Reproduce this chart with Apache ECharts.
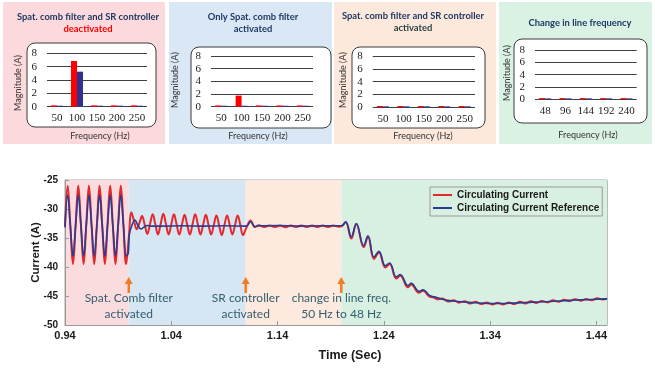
<!DOCTYPE html>
<html><head><meta charset="utf-8">
<script src="https://cdn.jsdelivr.net/npm/echarts@6/dist/echarts.min.js"></script>
<style>html,body{margin:0;padding:0;background:#fff}#c{width:655px;height:368px}</style>
</head><body><div id="c"></div>
<script>
// ---------- DATA ----------
const freqs50 = ['50', '100', '150', '200', '250'];
const freqs48 = ['48', '96', '144', '192', '240'];
const p1Red  = [0.2, 6.85, 0.2, 0.2, 0.2];
const p1Blue = [0.15, 5.25, 0.15, 0.15, 0.15];
const p2Red  = [0.2, 1.75, 0.2, 0.2, 0.2];
const p2Blue = [0.15, 0.15, 0.15, 0.15, 0.15];
const p3Red  = [0.2, 0.2, 0.2, 0.2, 0.2];
const p3Blue = [0.15, 0.15, 0.15, 0.15, 0.15];
const p4Red  = [0.2, 0.2, 0.2, 0.2, 0.2];
const p4Blue = [0.15, 0.15, 0.15, 0.15, 0.15];
const panelTitles = [
  ['Spat. comb filter and SR controller', 'deactivated'],
  ['Only Spat. comb filter', 'activated'],
  ['Spat. comb filter and SR controller', 'activated'],
  ['Change in line frequency']
];

const currentMeasured = [
  [0.94,-33.0],[0.9425,-26.0],[0.945,-32.75],[0.9475,-39.5],[0.95,-32.75],[0.9525,-26.0],[0.955,-32.75],[0.9575,-39.5],
  [0.96,-32.75],[0.9625,-26.0],[0.965,-32.75],[0.9675,-39.5],[0.97,-32.75],[0.9725,-26.0],[0.975,-32.75],[0.9775,-39.5],
  [0.98,-32.75],[0.9825,-26.0],[0.985,-32.75],[0.9875,-39.5],[0.99,-32.75],[0.9925,-26.0],[0.995,-32.75],[0.9975,-39.5],
  [1.0,-35.0],[1.0025,-30.6],[1.005,-32.1],[1.0075,-33.5],[1.01,-32.4],[1.0125,-31.2],[1.015,-32.7],[1.0175,-34.3],
  [1.02,-32.6],[1.0225,-30.9],[1.025,-32.65],[1.0275,-34.4],[1.03,-32.6],[1.0325,-30.8],[1.035,-32.6],[1.0375,-34.4],
  [1.04,-32.65],[1.0425,-30.9],[1.045,-32.65],[1.0475,-34.4],[1.05,-32.7],[1.0525,-31.0],[1.055,-32.7],[1.0575,-34.4],
  [1.06,-32.65],[1.0625,-30.9],[1.065,-32.65],[1.0675,-34.4],[1.07,-32.7],[1.0725,-31.0],[1.075,-32.7],[1.0775,-34.4],
  [1.08,-32.75],[1.0825,-31.1],[1.085,-32.8],[1.0875,-34.5],[1.09,-32.8],[1.0925,-31.1],[1.095,-32.75],[1.0975,-34.4],
  [1.10,-32.75],[1.1025,-31.1],[1.105,-32.8],[1.1075,-34.5],[1.1105,-33.3],[1.1148,-32.0],[1.1186,-33.1],[1.1225,-32.8],
  [1.1275,-33.1],[1.1325,-32.85],[1.1375,-33.1],[1.1425,-32.85],[1.1475,-33.15],[1.1525,-32.85],[1.1575,-33.1],[1.1625,-32.85],
  [1.1675,-33.1],[1.1725,-32.85],[1.1775,-33.1],[1.1825,-32.85],[1.1875,-33.1],[1.1925,-32.85],[1.1975,-33.05],[1.20,-33.0],
  [1.2041,-32.3],[1.2094,-35.1],[1.2141,-32.6],[1.2210,-36.6],[1.2251,-34.8],[1.2307,-38.6],[1.2354,-37.5],[1.2414,-40.1],
  [1.2455,-39.5],[1.2517,-42.0],[1.2555,-41.5],[1.2627,-43.5],[1.2658,-43.0],[1.2730,-44.45],[1.2768,-44.1],[1.2830,-45.1],
  [1.2877,-45.3],[1.2900,-45.55],[1.2952,-45.45],[1.3004,-45.95],[1.3056,-45.75],[1.3108,-46.15],[1.3160,-45.9],[1.3212,-46.3],
  [1.3264,-46.0],[1.3316,-46.4],[1.3368,-46.1],[1.3420,-46.45],[1.3472,-46.15],[1.3524,-46.45],[1.3576,-46.1],[1.3628,-46.4],
  [1.3680,-46.0],[1.3732,-46.3],[1.3784,-45.9],[1.3836,-46.2],[1.3888,-45.85],[1.3940,-46.1],[1.3992,-45.75],[1.4044,-46.0],
  [1.4096,-45.65],[1.4148,-45.9],[1.4200,-45.55],[1.4252,-45.8],[1.4304,-45.5],[1.4356,-45.75],[1.4408,-45.4],[1.4460,-45.6],
  [1.45,-45.45]
];
const currentReference = [
  [0.94,-33.2],[0.9425,-27.6],[0.945,-32.85],[0.9475,-38.1],[0.95,-32.85],[0.9525,-27.6],[0.955,-32.85],[0.9575,-38.1],
  [0.96,-32.85],[0.9625,-27.6],[0.965,-32.85],[0.9675,-38.1],[0.97,-32.85],[0.9725,-27.6],[0.975,-32.85],[0.9775,-38.1],
  [0.98,-32.85],[0.9825,-27.6],[0.985,-32.85],[0.9875,-38.1],[0.99,-32.85],[0.9925,-27.6],[0.995,-32.85],[0.9975,-38.1],
  [0.9995,-37.6],[1.0005,-34.4],[1.003,-32.8],[1.0058,-31.9],[1.0085,-32.8],[1.0114,-33.45],[1.0145,-33.1],[1.0175,-32.85],
  [1.021,-32.95],[1.03,-32.95],[1.05,-32.9],[1.07,-32.95],[1.09,-32.9],[1.1105,-32.95],[1.1148,-32.2],[1.1186,-33.05],
  [1.1225,-32.9],[1.14,-32.85],[1.16,-32.95],[1.18,-32.9],[1.20,-32.9],
  [1.2041,-32.2],[1.2094,-34.8],[1.2141,-32.5],[1.2210,-36.3],[1.2251,-34.6],[1.2307,-38.3],[1.2354,-37.3],[1.2414,-39.8],
  [1.2455,-39.3],[1.2517,-41.7],[1.2555,-41.3],[1.2627,-43.2],[1.2658,-42.8],[1.2730,-44.2],[1.2768,-43.95],[1.2830,-44.9],
  [1.2877,-45.15],[1.295,-45.55],[1.30,-45.75],[1.31,-45.95],[1.32,-46.1],[1.33,-46.2],[1.34,-46.3],[1.35,-46.3],
  [1.36,-46.25],[1.37,-46.15],[1.38,-46.05],[1.39,-46.0],[1.40,-45.9],[1.41,-45.8],[1.42,-45.7],[1.43,-45.65],
  [1.44,-45.55],[1.45,-45.5]
];
const timeTicks = [0.94, 1.04, 1.14, 1.24, 1.34, 1.44];
const stageBands = [[0.94, 1.00], [1.00, 1.11], [1.11, 1.20], [1.20, 1.45]];
const eventTimes = [1.00, 1.11, 1.20];
const eventLabels = [['Spat. Comb filter', 'activated'], ['SR controller', 'activated'], ['change in line freq.', '50 Hz to 48 Hz']];

// ---------- LAYOUT / STYLE ----------
const bandColors = ['#fadcdf', '#d6e6f3', '#fde9de', '#d8f0e1'];
const panels = [
  {x:3, y:2, w:162, h:142, fill:'#fbd9dc', box:[27,43,129,84], grid:{left:47, top:53.3, width:100, height:53.4},
   t1y:17, t2y:29, tx:88, t2c:'#ff0000', mag:[18,83], freq:[100,136], cats:freqs50, red:p1Red, blue:p1Blue},
  {x:169, y:2, w:163, h:142, fill:'#dae8f5', box:[191,47,140,81], grid:{left:211, top:56, width:102, height:50.7},
   t1y:17, t2y:29, tx:253, t2c:'#1f3864', mag:[175,80], freq:[258,136], cats:freqs50, red:p2Red, blue:p2Blue},
  {x:334, y:2, w:162, h:142, fill:'#fde8dc', box:[352,47,133,81], grid:{left:372.7, top:56, width:102.3, height:51.3},
   t1y:16, t2y:27.5, tx:413, t2c:'#1e3d3d', mag:[343,80], freq:[423,136], cats:freqs50, red:p3Red, blue:p3Blue},
  {x:499, y:2, w:153, h:142, fill:'#daf2e3', box:[514,39,133,84], grid:{left:535, top:50, width:101.7, height:49.3},
   t1y:23, tx:580, mag:[507,73], freq:[588,135], cats:freqs48, red:p4Red, blue:p4Blue}
];
const serif = 'Liberation Serif';
const sans = 'Lato';

const grids = [], xAxes = [], yAxes = [], series = [], graphics = [];
panels.forEach((p, i) => {
  grids.push(Object.assign({containLabel:false}, p.grid));
  xAxes.push({type:'category', gridIndex:i, data:p.cats, axisLine:{show:false}, axisTick:{show:false},
    axisLabel:{fontFamily:serif, fontSize:11, color:'#222', margin:6, interval:0, hideOverlap:false}});
  yAxes.push({type:'value', gridIndex:i, min:0, max:8, interval:2, axisLine:{show:false}, axisTick:{show:false},
    axisLabel:{fontFamily:serif, fontSize:11, color:'#222', margin:10},
    splitLine:{show:true, lineStyle:{color:'#404040', width:1}}});
  series.push({type:'bar', xAxisIndex:i, yAxisIndex:i, data:p.red, barWidth:6, barGap:'0%', itemStyle:{color:'#ff0000'}, silent:true});
  series.push({type:'bar', xAxisIndex:i, yAxisIndex:i, data:p.blue, barWidth:6, barGap:'0%', itemStyle:{color:'#2e3192'}, silent:true});
  graphics.push({type:'rect', z:-10, shape:{x:p.x, y:p.y, width:p.w, height:p.h}, style:{fill:p.fill}});
  graphics.push({type:'rect', z:-5, shape:{x:p.box[0], y:p.box[1], width:p.box[2], height:p.box[3], r:8},
    style:{fill:'#ffffff', stroke:'#3a3a3a', lineWidth:1}});
  const t = panelTitles[i];
  graphics.push({type:'text', x:p.tx, y:p.t1y, style:{text:t[0], font:'bold 9.4px ' + sans, fill:'#1f3864', align:'center', verticalAlign:'middle'}});
  if (t[1]) graphics.push({type:'text', x:p.tx, y:p.t2y, style:{text:t[1], font:'bold 9.4px ' + sans, fill:p.t2c, align:'center', verticalAlign:'middle'}});
  graphics.push({type:'text', x:p.mag[0], y:p.mag[1], rotation:Math.PI/2, style:{text:'Magnitude (A)', font:'9px ' + sans, fill:'#333', align:'center', verticalAlign:'middle'}});
  graphics.push({type:'text', x:p.freq[0], y:p.freq[1], style:{text:'Frequency (Hz)', font:'9px ' + sans, fill:'#333', align:'center', verticalAlign:'middle'}});
});

// main chart
const M = 4;
grids.push({left:65, top:180, width:542, height:145, show:true, borderColor:'#a6a6a6', borderWidth:1, backgroundColor:'transparent', z:0});
const bold = 'Liberation Sans';
xAxes.push({type:'value', gridIndex:M, min:0.94, max:1.45, interval:0.1, z:1,
  axisLine:{show:true, lineStyle:{color:'#999'}}, axisTick:{show:true, inside:true, length:4, lineStyle:{color:'#999'}},
  splitLine:{show:true, lineStyle:{color:'rgba(0,0,0,0.1)'}},
  axisLabel:{fontFamily:bold, fontWeight:'bold', fontSize:11, color:'#1a1a1a', margin:5, showMaxLabel:false,
    formatter:(v) => { const t = timeTicks.find(k => Math.abs(k - v) < 0.002); return t === undefined ? '' : t.toFixed(2); }}});
yAxes.push({type:'value', gridIndex:M, min:-50, max:-25, interval:5, z:1,
  axisLine:{show:true, lineStyle:{color:'#999'}}, axisTick:{show:true, inside:true, length:4, lineStyle:{color:'#999'}},
  splitLine:{show:true, lineStyle:{color:'rgba(0,0,0,0.1)'}},
  axisLabel:{fontFamily:bold, fontWeight:'bold', fontSize:10, color:'#1a1a1a', margin:7}});
series.push({type:'line', xAxisIndex:M, yAxisIndex:M, data:[], z:-2, silent:true,
  markArea:{silent:true, data: stageBands.map((b, i) => [{xAxis:b[0], itemStyle:{color:bandColors[i]}}, {xAxis:b[1]}])}});
series.push({name:'Circulating Current', type:'line', xAxisIndex:M, yAxisIndex:M, data:currentMeasured, z:3,
  showSymbol:false, symbol:'none', smooth:0.4, lineStyle:{color:'#e5282b', width:2}, itemStyle:{color:'#e5282b'}});
series.push({name:'Circulating Current Reference', type:'line', xAxisIndex:M, yAxisIndex:M, data:currentReference, z:4,
  showSymbol:false, symbol:'none', smooth:0.4, lineStyle:{color:'#283c94', width:1.6}, itemStyle:{color:'#283c94'}});
// event arrows (upward) anchored on the scales; labels below
const arrowPath = 'path://M4,0 L8,7 L5.25,7 L5.25,16 L2.75,16 L2.75,7 L0,7 Z';
series.push({type:'line', xAxisIndex:M, yAxisIndex:M, data:[], z:6, silent:true,
  markPoint:{silent:true, symbol:arrowPath, symbolSize:[8,16], symbolKeepAspect:false,
    itemStyle:{color:'#f47b20'}, label:{show:false},
    data: eventTimes.map(t => ({coord:[t, -43.1]}))}});
series.push({type:'line', xAxisIndex:M, yAxisIndex:M, data:[], z:6, silent:true,
  markPoint:{silent:true, symbol:'rect', symbolSize:1, itemStyle:{color:'rgba(0,0,0,0)'},
    label:{show:true, position:'inside', fontFamily:sans, fontSize:12, color:'#345e6e', lineHeight:16, align:'center', verticalAlign:'middle'},
    data: eventTimes.map((t, i) => ({coord:[t, -46.7], value:0, label:{formatter:eventLabels[i].join('\n')}}))}});

graphics.push({type:'text', x:36, y:252.5, rotation:Math.PI/2, style:{text:'Current (A)', font:'bold 11.5px ' + bold, fill:'#1a1a1a', align:'center', verticalAlign:'middle'}});
graphics.push({type:'text', x:350, y:356, style:{text:'Time (Sec)', font:'bold 12.5px ' + bold, fill:'#1a1a1a', align:'center', verticalAlign:'middle'}});

const chart = echarts.init(document.getElementById('c'));
chart.setOption({
  animation:false, backgroundColor:'#ffffff',
  grid:grids, xAxis:xAxes, yAxis:yAxes, series:series,
  legend:{data:['Circulating Current', 'Circulating Current Reference'], orient:'vertical', left:430, top:187,
    padding:[2, 3, 2, 3], itemGap:1, itemWidth:19, itemHeight:2, icon:'rect',
    borderColor:'#9a9a9a', borderWidth:1, backgroundColor:'transparent',
    textStyle:{fontFamily:bold, fontWeight:'bold', fontSize:10, color:'#1a1a1a', lineHeight:12}},
  graphic:{elements:graphics}
});
</script></body></html>
